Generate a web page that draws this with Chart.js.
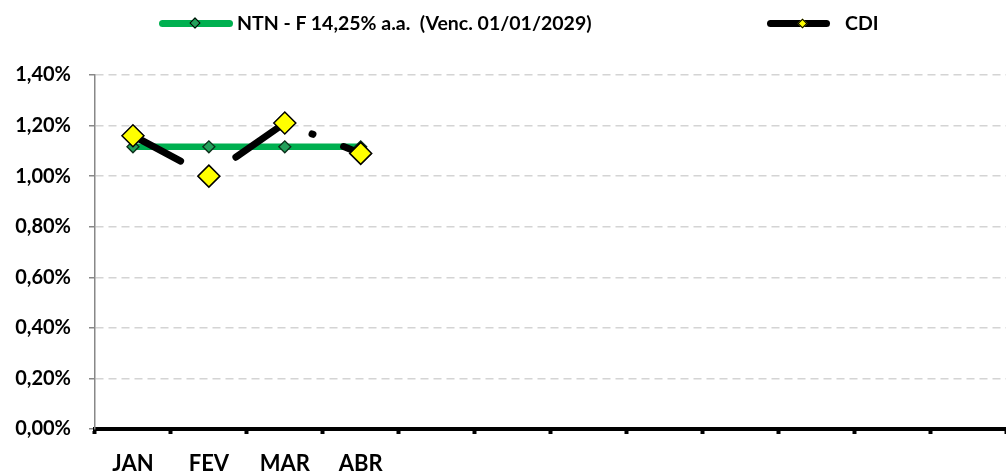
<!DOCTYPE html>
<html lang="pt-BR">
<head>
  <meta charset="UTF-8">
  <title>NTN-F x CDI</title>
  <script src="https://cdn.jsdelivr.net/npm/chart.js"></script>
  <style>
    html, body { margin: 0; padding: 0; background: #fff; }
    #wrap { position: relative; width: 1006px; height: 473px; }
    #grafico { position: absolute; left: 0; top: 0; }
    .leg-line { position: absolute; height: 7px; border-radius: 4px; }
    .leg-diam { position: absolute; transform: rotate(45deg); box-sizing: border-box; }
    .leg-txt { position: absolute; font: bold 19.5px Lato, sans-serif; color: #000; line-height: 20px; white-space: pre; }
  </style>
</head>
<body>
<div id="wrap">
  <canvas id="grafico" width="1006" height="473"></canvas>

  <!-- legenda -->
  <div class="leg-line" style="left:159px; top:20px; width:74px; background:#00B050;"></div>
  <div class="leg-diam" style="left:191px; top:19px; width:8px; height:8px; background:#22A05A; border:1.5px solid #000;"></div>
  <div class="leg-txt" style="left:237px; top:13px;">NTN - F 14,25% a.a.  (Venc. 01/01/2029)</div>

  <div class="leg-line" style="left:767px; top:20px; width:63px; background:#000;"></div>
  <div class="leg-diam" style="left:799px; top:20px; width:7px; height:7px; background:#FFFF00; border:1px solid #000;"></div>
  <div class="leg-txt" style="left:845px; top:13px;">CDI</div>
</div>

<script>
  // === Dados ===
  const meses = ["JAN", "FEV", "MAR", "ABR", "", "", "", "", "", "", "", ""];
  const ntnf = [1.116, 1.116, 1.116, 1.116];
  const cdi = [1.16, 1.00, 1.21, 1.09];
  const yTicks = [0, 0.2, 0.4, 0.6, 0.8, 1.0, 1.2, 1.4];

  new Chart(document.getElementById("grafico"), {
    type: "line",
    data: {
      labels: meses,
      datasets: [
        {
          label: "NTN - F 14,25% a.a.  (Venc. 01/01/2029)",
          data: ntnf,
          borderColor: "#00B050",
          borderWidth: 6.5,
          pointStyle: "rectRot",
          pointRadius: 6,
          pointBackgroundColor: "#22A05A",
          pointBorderColor: "#0B2E1A",
          pointBorderWidth: 1.3,
          tension: 0,
          order: 2
        },
        {
          label: "CDI",
          data: cdi,
          borderColor: "#000",
          borderWidth: 7,
          borderCapStyle: "round",
          borderDash: [58, 31, 1, 33],
          borderDashOffset: 4,
          pointStyle: "rectRot",
          pointRadius: 11,
          pointBackgroundColor: "#FFFF00",
          pointBorderColor: "#000",
          pointBorderWidth: 1.5,
          tension: 0,
          order: 1
        }
      ]
    },
    options: {
      responsive: false,
      animation: false,
      layout: { autoPadding: false, padding: { top: 75, right: 0, left: 0, bottom: 0 } },
      plugins: {
        legend: { display: false },
        tooltip: { enabled: false }
      },
      scales: {
        x: {
          offset: true,
          grid: {
            offset: true,
            drawOnChartArea: false,
            drawTicks: true,
            tickLength: 5,
            tickWidth: 4,
            tickColor: "#000"
          },
          border: { display: true, color: "#000", width: 4 },
          ticks: {
            autoSkip: false,
            maxRotation: 0,
            padding: 17,
            color: "#000",
            font: { family: "Lato", weight: "bold", size: 22 }
          },
          afterFit: s => { s.height = 44; }
        },
        y: {
          min: 0,
          max: 1.4,
          afterBuildTicks: s => { s.ticks = yTicks.map(v => ({ value: v })); },
          grid: {
            color: "#D4D4D4",
            lineWidth: 1.5,
            tickLength: 6,
            tickColor: "#888",
            tickWidth: 1.5
          },
          border: { display: true, color: "#888", width: 1.5, dash: [8, 5] },
          ticks: {
            padding: 18,
            color: "#000",
            font: { family: "Lato", weight: "bold", size: 20 },
            callback: v => v.toFixed(2).replace(".", ",") + "%"
          },
          afterFit: s => { s.width = 95; }
        }
      }
    }
  });
</script>
</body>
</html>
